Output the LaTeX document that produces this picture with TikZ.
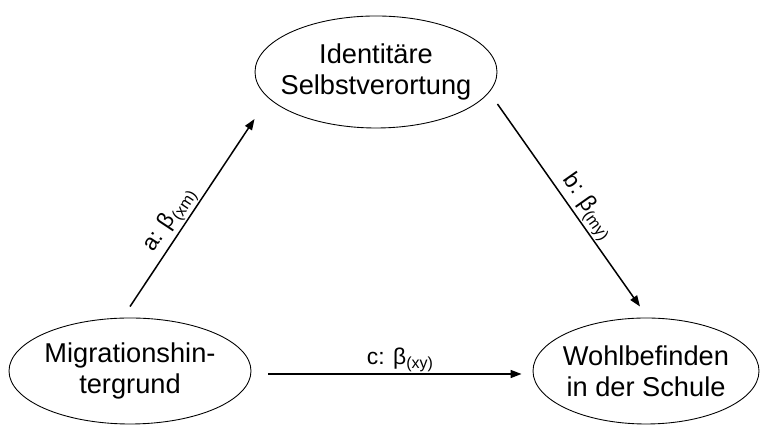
\documentclass[tikz,border=0pt]{standalone}
\usepackage{fontspec}
\setmainfont{Liberation Sans}
\usetikzlibrary{shapes.geometric,arrows.meta}

\begin{document}
\begin{tikzpicture}[
  var/.style={draw,ellipse,line width=0.5pt,inner sep=-2mm,minimum width=4.84cm,minimum height=2.24cm,align=center,font=\fontsize{15.5}{17.6}\selectfont},
  effect/.style={line width=0.85pt,-{Triangle[length=2.2mm,width=1.6mm]}},
  coef/.style={font=\fontsize{13}{15}\selectfont,inner sep=0.3mm}]

\useasboundingbox (0,0) rectangle (15.22,8.5);

%draw variables
  \node[var] (ident) at (7.52,7.06) {Identitäre\\Selbstverortung};
  \node[var,minimum height=2.12cm] (migr) at (2.60,1.08) {Migrationshin-\\tergrund};
  \node[var,minimum width=4.52cm,minimum height=2.12cm] (wohl) at (12.92,1.08) {Wohlbefinden\\in der Schule};

%draw effects
  \draw[effect] ([yshift=2.2mm]migr.north) -- ([yshift=-9.4mm]ident.west)
    node[coef,pos=0.42,above,sloped] {a: β\textsubscript{(xm)}};
  \draw[effect] ([yshift=-6.4mm]ident.east) -- ([xshift=-1.2mm,yshift=2.2mm]wohl.north)
    node[coef,pos=0.55,above,sloped] {b: β\textsubscript{(my)}};
  \draw[effect,shorten <=3.4mm,shorten >=2.2mm] ([yshift=-0.6mm]migr.east) -- ([yshift=-0.6mm]wohl.west)
    node[coef,pos=0.53,above] {c: β\textsubscript{(xy)}};

\end{tikzpicture}
\end{document}
